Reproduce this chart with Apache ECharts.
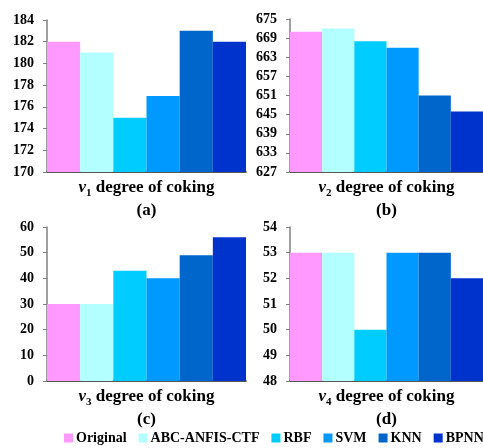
<!DOCTYPE html>
<html><head><meta charset="utf-8">
<script src="https://cdn.jsdelivr.net/npm/echarts@6/dist/echarts.min.js"></script>
<style>html,body{margin:0;padding:0;background:#fff}#c{width:483px;height:448px}</style>
</head><body><div id="c"></div>
<script>
const methods = ["Original", "ABC-ANFIS-CTF", "RBF", "SVM", "KNN", "BPNN"];
const colors = ["#FF99FF", "#B3FFFF", "#00CCFF", "#0099FF", "#0066CC", "#0033CC"];
const v1Values = [182, 181, 175, 177, 183, 182];
const v2Values = [671, 672, 668, 666, 651, 646];
const v3Values = [30, 30, 43, 40, 49, 56];
const v4Values = [53, 53, 50, 53, 53, 52];
const panelSubs = ["1", "2", "3", "4"];
const panelTags = ["(a)", "(b)", "(c)", "(d)"];
const yRanges = [[170, 184, 2], [627, 675, 6], [0, 60, 10], [48, 54, 1]];
const panelData = [v1Values, v2Values, v3Values, v4Values];

const FONT = "Liberation Serif";
const grids = [
  {left: 47, right: 237, top: 20, bottom: 276},
  {left: 290, right: 0, top: 19, bottom: 276},
  {left: 47, right: 237, top: 227, bottom: 67},
  {left: 290, right: 0, top: 227, bottom: 67}
];
const xAxes = [], yAxes = [], series = [];
for (let g = 0; g < 4; g++) {
  xAxes.push({
    type: 'category', gridIndex: g, data: ['v' + panelSubs[g]],
    axisLabel: {show: false}, axisTick: {show: false},
    axisLine: {lineStyle: {color: '#222', width: 1.5}},
    name: '{i|v}{sub|' + panelSubs[g] + '}{b| degree of coking}\n{b|' + panelTags[g] + '}',
    nameLocation: 'middle', nameGap: 4,
    nameTextStyle: {
      verticalAlign: 'top', align: 'center', lineHeight: 23,
      rich: {
        i: {fontFamily: FONT, fontStyle: 'italic', fontWeight: 'bold', fontSize: 17, color: '#000', lineHeight: 23},
        sub: {fontFamily: FONT, fontWeight: 'bold', fontSize: 11, color: '#000', verticalAlign: 'bottom', lineHeight: 16},
        b: {fontFamily: FONT, fontWeight: 'bold', fontSize: 17, color: '#000', lineHeight: 23}
      }
    }
  });
  yAxes.push({
    type: 'value', gridIndex: g, min: yRanges[g][0], max: yRanges[g][1], interval: yRanges[g][2],
    splitLine: {show: false},
    axisLine: {show: true, lineStyle: {color: '#808080', width: 1.5}},
    axisTick: {show: true, length: 4, lineStyle: {color: '#808080'}},
    axisLabel: {fontFamily: FONT, fontWeight: 'bold', fontSize: 14, color: '#000', margin: 13}
  });
  for (let s = 0; s < methods.length; s++) {
    series.push({
      type: 'bar', name: methods[s], xAxisIndex: g, yAxisIndex: g,
      data: [panelData[g][s]], itemStyle: {color: colors[s]},
      barGap: '0%', barCategoryGap: '0%', animation: false
    });
  }
}
const chart = echarts.init(document.getElementById('c'), null, {renderer: 'canvas'});
chart.setOption({
  animation: false,
  grid: grids,
  xAxis: xAxes,
  yAxis: yAxes,
  legend: {
    data: methods, left: 64, top: 431, width: 440, padding: 0, orient: 'horizontal',
    icon: 'rect', itemWidth: 9, itemHeight: 9, itemGap: 12,
    textStyle: {fontFamily: FONT, fontWeight: 'bold', fontSize: 14, color: '#000', padding: [0, 0, 0, -2]}
  },
  series: series
});
</script></body></html>
